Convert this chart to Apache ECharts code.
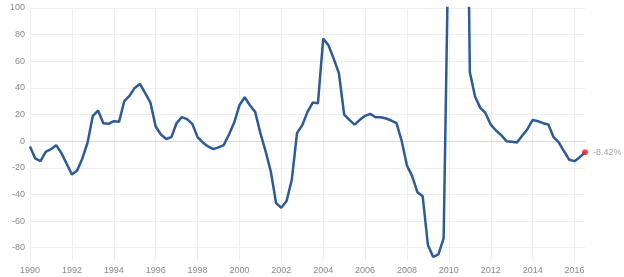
<!DOCTYPE html>
<html>
<head>
<meta charset="utf-8">
<script src="https://cdn.jsdelivr.net/npm/echarts@6/dist/echarts.min.js"></script>
<style>
html,body{margin:0;padding:0;background:#fff;}
#c{width:624px;height:277px;}
</style>
</head>
<body>
<div id="c"></div>
<script>
// Quarterly values, starting Q1 1990 (x = year + quarter/4)
const startYear = 1990;
const values = [
  -4, -13, -15, -8,
  -6, -3, -9, -17,
  -25, -22, -13, -1,
  19, 23, 13.5, 13,
  15, 14.5, 30, 34,
  40, 43, 36, 29,
  11, 5, 1.6, 3,
  13.6, 18, 16.5, 13,
  3, -1, -4, -6,
  -4.7, -3, 5, 14,
  27, 33, 27, 22,
  6, -7.6, -23, -46.5,
  -50, -45, -29, 6,
  12, 22, 29, 28.5,
  77, 72, 62, 51,
  20, 16, 12.4, 16,
  19, 20.5, 18, 18,
  17, 15.5, 13.6, 0,
  -18.4, -26.4, -38.4, -41.4,
  -78, -87, -85, -73,
  170, 280, 350, 390,
  52, 33.6, 25, 21,
  12.4, 8, 4.5, 0,
  -0.5, -1, 4, 9,
  16, 15, 13.5, 12.5,
  3, -1, -7.6, -14,
  -15, -12, -8.42
];
const yTicks = [-80, -60, -40, -20, 0, 20, 40, 60, 80, 100];
const xTicks = [1990, 1992, 1994, 1996, 1998, 2000, 2002, 2004, 2006, 2008, 2010, 2012, 2014, 2016];

const seriesData = values.map((v, i) => [startYear + i / 4, v]);
const lastPoint = seriesData[seriesData.length - 1];

const chart = echarts.init(document.getElementById('c'), null, {renderer: 'canvas'});
chart.setOption({
  animation: false,
  textStyle: {fontFamily: 'Liberation Sans, Arial, sans-serif'},
  grid: {left: 30, right: 39, top: 8, bottom: 16, containLabel: false},
  xAxis: {
    type: 'value',
    min: 1990,
    max: 2016.5,
    axisLine: {show: true, onZero: true, lineStyle: {color: '#d9d9d9', width: 1}},
    axisTick: {show: false, customValues: xTicks},
    axisLabel: {customValues: xTicks, color: '#8a8a8a', fontSize: 9, margin: 5,
      formatter: v => String(v)},
    splitLine: {show: true, lineStyle: {color: '#efefef', width: 1}}
  },
  yAxis: {
    type: 'value',
    min: -90,
    max: 100,
    axisLine: {show: false},
    axisTick: {show: false, customValues: yTicks},
    axisLabel: {customValues: yTicks, color: '#8a8a8a', fontSize: 9, margin: 5},
    splitLine: {show: true, lineStyle: {color: '#efefef', width: 1}}
  },
  series: [
    {
      type: 'line',
      data: seriesData,
      showSymbol: false,
      clip: true,
      lineStyle: {color: '#2d5b98', width: 2.5},
      z: 2
    },
    {
      type: 'scatter',
      data: [lastPoint],
      symbolSize: 6,
      itemStyle: {color: '#ff1a1a'},
      label: {
        show: true,
        position: 'right',
        distance: 5,
        color: '#8a8a8a',
        fontSize: 9,
        formatter: p => p.value[1].toFixed(2) + '%'
      },
      z: 3
    }
  ]
});
</script>
</body>
</html>
